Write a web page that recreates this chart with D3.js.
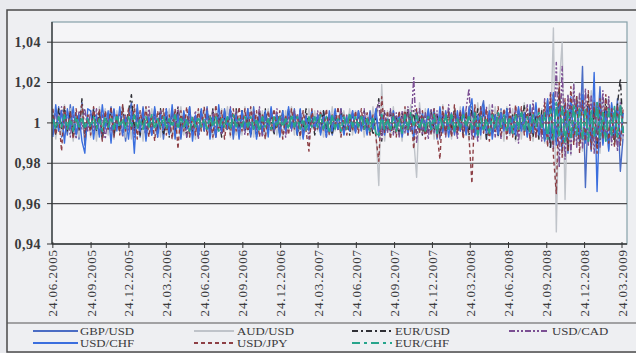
<!DOCTYPE html>
<html>
<head>
<meta charset="utf-8">
<script src="https://cdn.jsdelivr.net/npm/d3@7"></script>
<style>
  body { margin: 0; background: #e9eaee; }
  svg { display: block; }
</style>
</head>
<body>
<svg id="chart" width="636" height="353"></svg>
<script>
// daily rate ratios, sampled weekly from 24.06.2005, stored as (ratio - 1) x 1000
const gbpUsd = [
  6,-5,8,-7,3,-6,9,-4,5,-8,10,-11,2,
  -5,7,-6,3,-8,6,-2,8,-7,4,-3,7,-9,
  4,10,-6,3,-7,8,-4,2,-6,7,-3,6,-8,
  3,-5,7,-2,6,-8,4,-3,8,-6,2,-7,5,
  -3,8,-6,4,-7,3,-5,7,-2,6,-8,4,-3,
  6,-4,2,-7,8,-3,5,-6,3,-2,7,-5,3,
  -6,4,-3,6,-2,7,-5,3,-7,4,-3,6,-4,
  3,-5,6,-2,4,-6,3,-3,7,-4,2,-3,5,
  -4,5,-3,2,-5,6,-2,4,-7,5,-6,3,-4,
  6,-5,3,-7,4,-3,8,-6,5,-4,2,-5,6,
  -3,7,-8,4,-5,6,-2,5,-6,3,-4,7,-5,
  8,-6,4,-7,5,11,-8,3,-5,6,-4,7,-3,
  5,-6,4,-3,7,-5,3,-6,9,-4,6,-7,4,
  -8,10,-12,14,-9,16,-13,8,-15,11,-7,12,-10,
  28,-32,9,-14,11,-6,18,-10,7,-13,9,-8,12,-24,-6
];
const audUsd = [
  7,-8,4,-6,9,-4,7,-9,3,-7,8,-6,4,
  -7,6,-9,8,-4,7,-6,3,-8,6,-4,9,-7,
  4,-8,7,-3,6,-9,8,-4,7,-6,3,-7,6,
  -4,7,-8,6,-3,8,-6,4,-7,3,-8,6,-4,
  7,-6,4,-8,6,-3,7,-4,8,-7,4,-6,3,
  -6,8,-4,7,-7,4,-3,6,-8,7,-4,3,-6,
  4,-7,6,-3,8,-6,4,-8,6,-4,7,-3,6,
  -4,6,-7,4,-6,8,-4,3,-7,6,-3,7,-6,
  6,-5,4,-7,5,-6,8,-4,-31,19,-9,6,-7,
  8,-6,5,-9,7,-5,9,-8,-27,10,-6,7,-5,
  6,-8,5,-7,9,-6,4,-8,7,-5,8,-6,5,
  -9,7,-6,10,-8,6,-7,9,-5,8,-7,6,-9,
  8,-6,7,-9,6,-8,10,-7,5,-9,8,-6,7,
  -10,12,-9,47,-54,18,40,-38,14,-16,20,-12,15,
  -14,12,-10,16,-13,9,-15,11,-8,13,-10,7,-9,12,-8
];
const eurUsd = [
  4,-6,7,-3,8,-4,6,-7,3,-4,12,-6,4,
  -3,7,-4,6,-8,4,-3,7,-6,3,-4,8,-3,
  6,14,-4,7,-6,3,-7,4,-3,6,-4,7,-6,
  3,-7,4,-6,8,-3,4,-7,6,-4,3,-6,7,
  -4,6,-3,7,-6,4,-7,3,-4,6,-3,7,-4,
  6,-4,3,-6,4,-7,6,-3,7,-4,3,-6,4,
  -3,6,-4,7,-3,4,-6,3,-4,7,-3,4,-6,
  4,-3,6,-4,3,-6,4,-3,7,-4,3,-6,4,
  -4,5,-3,6,-5,4,-6,3,12,-9,5,-4,6,
  -5,4,-6,5,-3,7,-4,6,-5,3,-6,4,-5,
  6,-4,5,-7,4,-5,6,-3,7,-5,4,-6,5,
  -6,8,-5,7,-4,6,-8,5,-6,4,-7,5,-3,
  7,-5,4,-8,6,-4,9,-6,5,-7,4,-8,6,
  -9,11,-13,15,-10,17,-12,9,-14,11,-8,13,-10,
  12,-9,14,-11,8,-13,10,-7,12,-9,6,-11,9,22,-6
];
const usdCad = [
  -6,7,-4,8,-3,6,-7,4,-8,6,-3,7,-4,
  6,-4,7,-6,4,-8,3,-4,7,-3,6,-7,4,
  -4,6,-7,4,-3,7,-6,8,-4,3,-7,6,-3,
  7,-4,6,-3,8,-6,4,-7,3,-4,6,-8,4,
  -3,7,-4,6,-7,3,-6,4,-3,8,-4,6,-7,
  4,-6,7,-3,6,-4,8,-7,4,-3,6,-4,7,
  -6,4,-7,3,-4,6,-3,7,-6,4,-8,3,-4,
  6,-4,3,-7,4,-3,6,-4,7,-6,4,-3,6,
  -5,6,-4,7,-6,5,-3,6,10,-8,6,-5,7,
  -6,5,-7,6,-5,8,-4,23,-10,7,-6,5,-8,
  7,-5,6,-8,5,-7,9,-6,5,-8,6,-5,7,
  17,-8,6,-9,7,-5,8,-6,9,-7,5,-8,6,
  -7,9,-6,8,-10,7,-5,9,-8,11,-7,6,-9,
  12,-10,15,-13,30,-22,28,-18,14,-16,19,-12,15,
  -13,17,-11,14,-15,10,-12,16,-9,13,-11,8,-14,10,-7
];
const usdChf = [
  -7,9,-4,6,-10,7,-3,8,-6,4,-9,-15,7,
  6,-8,4,-7,9,-3,6,-10,7,-4,8,-6,3,
  -8,6,-15,9,-4,7,-9,3,-6,8,-7,4,-3,
  7,-6,9,-8,4,-7,6,-3,8,-9,4,-6,7,
  -4,6,-8,3,-7,9,-4,6,-3,7,-6,4,-8,
  6,-3,7,-6,4,-8,3,-4,6,-7,8,-3,4,
  -7,6,-4,8,-3,4,-6,7,-8,3,-4,6,-3,
  4,-6,3,-7,6,-4,7,-3,4,-6,3,-4,6,
  -5,6,-4,3,-6,5,-3,7,-5,4,-6,2,-4,
  6,-3,5,-7,4,-6,3,-8,6,-4,5,-3,7,
  -5,4,-6,8,-4,5,-7,3,-5,6,-4,8,-6,
  5,12,-7,4,-6,9,-5,6,-8,4,-6,5,-4,
  7,-5,3,-6,8,-4,5,-7,3,-5,10,-6,4,
  -9,12,-8,15,-11,9,-14,10,-7,13,-9,11,-8,
  14,-10,8,-12,25,-34,9,-11,6,-14,10,-7,8,-9,5
];
const usdJpy = [
  7,-6,4,-14,8,-4,6,-8,7,-3,9,-7,4,
  -6,8,-4,7,-9,6,-3,8,-7,4,-6,9,-4,
  7,-4,9,-8,6,-3,8,-7,4,-9,6,-3,7,
  -6,4,-8,7,-13,6,-4,8,-7,3,-6,7,-4,
  8,-6,4,-7,9,-4,6,-8,3,-6,7,-4,8,
  -4,7,-6,8,-3,6,-7,4,-8,6,-4,7,-3,
  6,-8,4,-6,7,-3,4,-7,6,-4,-14,7,-4,
  -3,6,-4,7,-6,4,-3,8,-7,4,-6,3,-4,
  6,-5,7,-4,5,-6,4,-7,-19,13,-5,6,-8,
  5,-7,6,-4,8,-6,5,-13,7,-5,6,-8,4,
  -6,7,-5,-18,8,-6,5,-7,9,-5,6,-8,5,
  -7,-30,9,-6,8,-5,7,-9,6,-4,8,-6,7,
  -8,6,-7,9,-5,8,-6,7,-9,5,-7,8,-6,
  10,-12,14,-16,-35,20,-17,12,-14,18,-11,13,-15,
  11,-9,16,-13,10,-15,12,-8,14,-10,7,-12,9,-11,8
];
const eurChf = [
  2,-3,3,-2,4,-3,2,-4,3,-2,3,-3,2,
  -2,3,-3,2,-4,3,-2,3,-3,4,-2,2,-3,
  3,-2,4,-3,2,-3,3,-2,4,-3,2,-2,3,
  -3,2,-2,4,-3,3,-2,2,-4,3,-2,3,-2,
  2,-3,3,-2,3,-4,2,-2,3,-3,4,-2,2,
  -2,3,-2,3,-3,2,-4,3,-2,2,-3,3,-2,
  3,-2,2,-3,4,-2,3,-3,2,-4,3,-2,3,
  -2,4,-3,3,-5,4,-3,2,-4,3,-3,5,-2,
  3,-2,4,-3,2,-4,3,-5,-7,4,-3,2,-4,
  3,-4,2,-5,4,-3,5,-2,4,-3,2,-4,3,
  -3,4,-5,3,-2,4,-3,5,-4,2,-3,4,-2,
  4,-3,5,-6,3,-4,2,-5,4,-3,5,-2,4,
  -4,3,-5,4,-3,6,-4,3,-5,4,-2,5,-3,
  5,-8,7,-9,10,-7,8,-10,6,-8,9,-6,7,
  -8,7,-9,6,-7,10,-8,6,-9,7,-6,8,-7,9,-5
];

const seriesNames = ['GBP/USD', 'AUD/USD', 'EUR/USD', 'USD/CAD', 'USD/CHF', 'USD/JPY', 'EUR/CHF'];
const seriesValues = [gbpUsd, audUsd, eurUsd, usdCad, usdChf, usdJpy, eurChf];
const firstDate = '24.06.2005';
const xTickLabels = ['24.06.2005', '24.09.2005', '24.12.2005', '24.03.2006', '24.06.2006', '24.09.2006',
  '24.12.2006', '24.03.2007', '24.06.2007', '24.09.2007', '24.12.2007', '24.03.2008', '24.06.2008',
  '24.09.2008', '24.12.2008', '24.03.2009'];
const yTicks = [0.94, 0.96, 0.98, 1, 1.02, 1.04];
const yTickLabels = ['0,94', '0,96', '0,98', '1', '1,02', '1,04'];

const colors = ['#4a6cc4', '#bfc3c9', '#2f2f35', '#7b4f93', '#3a6ede', '#8d3f45', '#27a58c'];
const dashes = [null, null, '6,3,2,3', '6,2,2,2,2,2', null, '4,3', '8,4,3,4'];

const parseDate = d3.timeParse('%d.%m.%Y');
const start = parseDate(firstDate);

const svg = d3.select('#chart');
const plot = { left: 52, right: 627, top: 22, bottom: 244 };

// Outer frame
svg.append('rect')
  .attr('x', 7).attr('y', 10)
  .attr('width', 640).attr('height', 342)
  .attr('fill', '#eeeff2')
  .attr('stroke', '#4a4a4a')
  .attr('stroke-width', 1.5);

svg.append('rect')
  .attr('x', plot.left).attr('y', plot.top)
  .attr('width', plot.right - plot.left).attr('height', plot.bottom - plot.top)
  .attr('fill', '#f5f5f7')
  .attr('stroke', '#86a0a8')
  .attr('stroke-width', 1.2);

// Scales
const x = d3.scaleTime()
  .domain([d3.timeDay.offset(start, -2), d3.timeDay.offset(parseDate('24.03.2009'), 12)])
  .range([plot.left, plot.right]);

const y = d3.scaleLinear().domain([0.94, 1.05]).range([plot.bottom, plot.top]);

// Gridlines
svg.append('g')
  .selectAll('line')
  .data(yTicks.slice(1))
  .join('line')
  .attr('x1', plot.left).attr('x2', plot.right)
  .attr('y1', (d) => y(d)).attr('y2', (d) => y(d))
  .attr('stroke', '#4d4d4f')
  .attr('stroke-width', 1.1);

// Series
const line = d3.line()
  .x((d, i) => x(d3.timeDay.offset(start, 7 * i)))
  .y((d) => y(1 + d / 1000));

svg.append('g')
  .selectAll('path')
  .data(seriesValues)
  .join('path')
  .attr('d', (d) => line(d))
  .attr('fill', 'none')
  .attr('stroke', (d, i) => colors[i])
  .attr('stroke-width', (d, i) => (i === 6 ? 1.8 : 1.4))
  .attr('stroke-dasharray', (d, i) => (i === 6 ? '10,3,4,3' : dashes[i]))
  .attr('stroke-linejoin', 'round');

// Y axis
const yAxis = svg.append('g');
yAxis.append('line')
  .attr('x1', plot.left).attr('x2', plot.left)
  .attr('y1', plot.top).attr('y2', plot.bottom)
  .attr('stroke', '#333').attr('stroke-width', 1.3);

yAxis.selectAll('line.tick')
  .data(yTicks)
  .join('line')
  .attr('class', 'tick')
  .attr('x1', plot.left - 5).attr('x2', plot.left)
  .attr('y1', (d) => y(d)).attr('y2', (d) => y(d))
  .attr('stroke', '#333');

yAxis.selectAll('text')
  .data(yTicks)
  .join('text')
  .attr('x', 41)
  .attr('y', (d) => y(d))
  .attr('dy', '0.35em')
  .attr('text-anchor', 'end')
  .attr('font-family', 'Liberation Serif, serif')
  .attr('font-size', '14px')
  .attr('font-weight', 'bold')
  .attr('letter-spacing', '0.5px')
  .attr('fill', '#3a3a3c')
  .text((d, i) => yTickLabels[i]);

// X axis
const xAxis = svg.append('g');
xAxis.append('line')
  .attr('x1', plot.left).attr('x2', plot.right)
  .attr('y1', plot.bottom).attr('y2', plot.bottom)
  .attr('stroke', '#333').attr('stroke-width', 1.3);

xAxis.selectAll('line.tick')
  .data(xTickLabels)
  .join('line')
  .attr('class', 'tick')
  .attr('x1', (d) => x(parseDate(d))).attr('x2', (d) => x(parseDate(d)))
  .attr('y1', plot.bottom - 2).attr('y2', plot.bottom + 4)
  .attr('stroke', '#333');

xAxis.selectAll('text')
  .data(xTickLabels)
  .join('text')
  .attr('transform', (d) => `translate(${x(parseDate(d))},249) rotate(-90)`)
  .attr('dy', '0.35em')
  .attr('text-anchor', 'end')
  .attr('font-family', 'Liberation Serif, serif')
  .attr('font-size', '13px')
  .attr('letter-spacing', '0.9px')
  .attr('fill', '#3a3a3c')
  .text((d) => d);

// Legend
svg.append('line')
  .attr('x1', 7).attr('x2', 636)
  .attr('y1', 323).attr('y2', 323)
  .attr('stroke', '#555').attr('stroke-width', 1.2);

const legendCols = [33, 194, 352, 509];
const legend = svg.append('g')
  .selectAll('g')
  .data(seriesNames)
  .join('g')
  .attr('transform', (d, i) => `translate(${legendCols[i % 4]},${i < 4 ? 331 : 343})`);

legend.append('line')
  .attr('x1', 0).attr('x2', (d, i) => (i % 4 === 0 ? 45 : 40))
  .attr('stroke', (d, i) => colors[i])
  .attr('stroke-width', 2)
  .attr('stroke-dasharray', (d, i) => dashes[i]);

legend.append('text')
  .attr('transform', (d, i) => `translate(${i % 4 === 0 ? 47 : 43},0) scale(1.22,1)`)
  .attr('dy', '0.35em')
  .attr('font-family', 'Liberation Serif, serif')
  .attr('font-size', '10.5px')
  .attr('fill', '#3a3a3c')
  .text((d) => d);
</script>
</body>
</html>
